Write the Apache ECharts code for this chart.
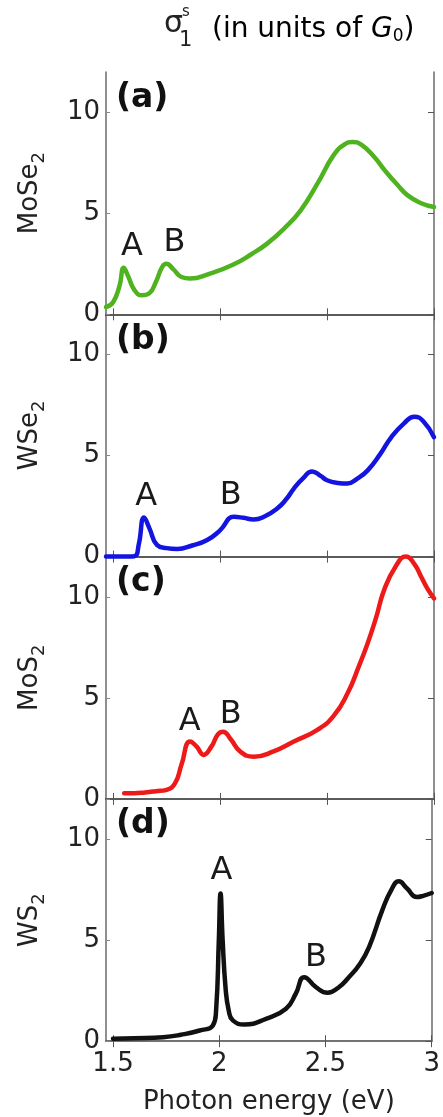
<!DOCTYPE html>
<html>
<head>
<meta charset="utf-8">
<script src="https://cdn.jsdelivr.net/npm/echarts@6/dist/echarts.min.js"></script>
<style>
  html, body { margin: 0; padding: 0; background: #fff; }
  #chart { width: 443px; height: 1117px; }
</style>
</head>
<body>
<div id="chart"></div>
<script>
// 四个面板的数据：[光子能量 eV, σ1 (G0)]
const moSe2 = [
  [1.467, 0.36], [1.50, 0.6], [1.53, 1.4], [1.55, 2.3], [1.57, 1.9], [1.60, 1.2],
  [1.635, 0.94], [1.67, 1.05], [1.70, 1.6], [1.73, 2.35], [1.75, 2.5], [1.78, 2.25],
  [1.82, 1.85], [1.86, 1.77], [1.95, 2.0], [2.06, 2.45], [2.15, 3.0], [2.22, 3.5],
  [2.30, 4.25], [2.377, 5.15], [2.455, 6.47], [2.53, 7.87], [2.58, 8.4], [2.62, 8.53],
  [2.66, 8.4], [2.72, 7.8], [2.77, 7.13], [2.83, 6.4], [2.877, 5.89], [2.94, 5.5], [3.0, 5.31]
];
const wSe2 = [
  [1.467, 0.0], [1.55, 0.0], [1.60, 0.02], [1.62, 0.6], [1.645, 1.94], [1.67, 1.4],
  [1.705, 0.58], [1.75, 0.42], [1.80, 0.38], [1.87, 0.55], [1.94, 0.82], [2.00, 1.3],
  [2.065, 1.97], [2.11, 1.92], [2.157, 1.84], [2.21, 2.0], [2.267, 2.38], [2.31, 2.85],
  [2.345, 3.37], [2.39, 3.9], [2.43, 4.22], [2.47, 4.0], [2.50, 3.78], [2.55, 3.65],
  [2.596, 3.62], [2.64, 3.85], [2.69, 4.27], [2.75, 5.1], [2.80, 5.91], [2.86, 6.6],
  [2.908, 6.93], [2.95, 6.7], [3.0, 5.91]
];
const moS2 = [
  [1.552, 0.28], [1.60, 0.28], [1.65, 0.32], [1.70, 0.38], [1.75, 0.45], [1.79, 0.78],
  [1.82, 1.7], [1.86, 2.84], [1.89, 2.6], [1.923, 2.18], [1.96, 2.6], [1.99, 3.2],
  [2.014, 3.33], [2.05, 2.95], [2.095, 2.34], [2.158, 2.09], [2.25, 2.35], [2.345, 2.84],
  [2.455, 3.42], [2.53, 4.1], [2.596, 5.23], [2.65, 6.6], [2.69, 7.71], [2.73, 9.0],
  [2.767, 10.35], [2.82, 11.5], [2.869, 12.0], [2.91, 11.6], [2.94, 11.0], [2.97, 10.4], [3.0, 9.93]
];
const wS2 = [
  [1.50, 0.12], [1.60, 0.15], [1.736, 0.2], [1.82, 0.32], [1.908, 0.53], [1.97, 0.78],
  [1.985, 1.5], [1.998, 5.0], [2.006, 7.31], [2.016, 5.0], [2.03, 2.6], [2.045, 1.5],
  [2.064, 1.03], [2.119, 0.83], [2.22, 1.11], [2.314, 1.61], [2.36, 2.35], [2.40, 3.17],
  [2.455, 2.68], [2.51, 2.4], [2.56, 2.65], [2.61, 3.17], [2.66, 3.8], [2.705, 4.66],
  [2.767, 6.48], [2.81, 7.5], [2.845, 7.92], [2.884, 7.56], [2.93, 7.14], [2.96, 7.2], [3.0, 7.34]
];

// 峰位标注 A / B
const peakLabelsMoSe2 = [['A', 1.588, 3.33], ['B', 1.787, 3.55]];
const peakLabelsWSe2 = [['A', 1.655, 2.96], ['B', 2.05, 3.01]];
const peakLabelsMoS2 = [['A', 1.858, 3.83], ['B', 2.05, 4.16]];
const peakLabelsWS2 = [['A', 2.01, 8.46], ['B', 2.455, 4.16]];

const materials = ['MoSe', 'WSe', 'MoS', 'WS'];
const panelTags = ['(a)', '(b)', '(c)', '(d)'];
const xTicks = [1.5, 2, 2.5, 3];
const yTicks = [0, 5, 10];

const seriesData = [moSe2, wSe2, moS2, wS2];
const peakData = [peakLabelsMoSe2, peakLabelsWSe2, peakLabelsMoS2, peakLabelsWS2];
const colors = ['#4fb320', '#1414e0', '#ee1a1a', '#111111'];

const font = 'DejaVu Sans';
const gridTop = 72;
const gridH = 242.3;
const frameColor = '#6a6a6a';

const chart = echarts.init(document.getElementById('chart'), null, { renderer: 'canvas' });

const grid = [];
const xAxis = [];
const yAxis = [];
const series = [];
const graphic = [];

for (let i = 0; i < 4; i++) {
  const top = gridTop + i * gridH;
  grid.push({ left: 106, width: 328, top: top, height: gridH });

  const last = i === 3;
  // 底部 x 轴
  xAxis.push({
    type: 'value', gridIndex: i, min: 1.467, max: 3, position: 'bottom',
    axisLine: { lineStyle: { color: last ? frameColor : '#333', width: last ? 1.5 : 2 } },
    axisTick: { show: true, inside: true, length: 6, customValues: xTicks, lineStyle: { color: '#555' } },
    axisLabel: {
      show: last, customValues: xTicks, margin: 10, color: '#222',
      fontSize: 26, fontFamily: font
    },
    splitLine: { show: false },
    name: last ? 'Photon energy (eV)' : '',
    nameLocation: 'middle', nameGap: 48,
    nameTextStyle: { fontSize: 26, fontFamily: font, color: '#222' }
  });
  // 顶部 x 轴，只画刻度
  xAxis.push({
    type: 'value', gridIndex: i, min: 1.467, max: 3, position: 'top',
    axisLine: { lineStyle: { color: frameColor, width: 1.5 } },
    axisTick: { show: true, inside: true, length: 6, customValues: xTicks, lineStyle: { color: '#555' } },
    axisLabel: { show: false },
    splitLine: { show: false }
  });
  // 左侧 y 轴
  yAxis.push({
    type: 'value', gridIndex: i, min: 0, max: 12, position: 'left',
    axisLine: { show: true, lineStyle: { color: frameColor, width: 1.5 } },
    axisTick: { show: true, inside: true, length: 4, customValues: yTicks, lineStyle: { color: '#888' } },
    axisLabel: { customValues: yTicks, margin: 6, color: '#222', fontSize: 26, fontFamily: font },
    splitLine: { show: false },
    name: '{m|' + materials[i] + '}{s|2}',
    nameLocation: 'middle', nameRotate: 90, nameGap: 58,
    nameTextStyle: {
      color: '#222',
      rich: {
        m: { fontSize: 26, fontFamily: font, color: '#222' },
        s: { fontSize: 18, fontFamily: font, color: '#222', padding: [18, 0, 0, 0] }
      }
    }
  });
  // 右侧 y 轴，只画刻度
  yAxis.push({
    type: 'value', gridIndex: i, min: 0, max: 12, position: 'right',
    axisLine: { show: true, lineStyle: { color: frameColor, width: 1.5 } },
    axisTick: { show: true, inside: true, length: 6, customValues: yTicks, lineStyle: { color: '#555' } },
    axisLabel: { show: false },
    splitLine: { show: false }
  });

  series.push({
    type: 'line', xAxisIndex: i * 2, yAxisIndex: i * 2,
    data: seriesData[i], showSymbol: false, smooth: 0.5,
    lineStyle: { color: colors[i], width: 4.5, cap: 'round', join: 'round' }, clip: false, z: 3
  });
  series.push({
    type: 'scatter', xAxisIndex: i * 2, yAxisIndex: i * 2,
    data: peakData[i].map((p) => ({ name: p[0], value: [p[1], p[2]] })),
    symbolSize: 1, itemStyle: { color: 'rgba(0,0,0,0)', opacity: 1 },
    label: {
      show: true, position: 'inside', formatter: '{b}',
      fontSize: 32, fontFamily: font, color: '#1a1a1a'
    },
    z: 4
  });

  graphic.push({
    type: 'text', style: {
      text: panelTags[i], x: 116, y: top + 26, verticalAlign: 'middle',
      font: 'bold 33px "DejaVu Sans"', fill: '#111'
    }
  });
}

// 顶部标题 σ1^s (in units of G0)
graphic.push(
  { type: 'text', style: { text: 'σ', x: 164, y: 24, verticalAlign: 'middle', font: '30px "DejaVu Sans"', fill: '#222' } },
  { type: 'text', style: { text: 's', x: 182, y: 12, verticalAlign: 'middle', font: '15px "DejaVu Sans"', fill: '#222' } },
  { type: 'text', style: { text: '1', x: 179, y: 41, verticalAlign: 'middle', font: '21px "DejaVu Sans"', fill: '#222' } },
  {
    type: 'text', style: {
      text: '{t|(in units of }{g|G}{z|0}{t|)}', x: 212, y: 30, verticalAlign: 'middle',
      rich: {
        t: { fontSize: 28, fontFamily: font, color: '#222' },
        g: { fontSize: 28, fontFamily: font, fontStyle: 'italic', color: '#222' },
        z: { fontSize: 17, fontFamily: font, color: '#222', padding: [14, 0, 0, 0] }
      }
    }
  }
);

chart.setOption({
  animation: false,
  backgroundColor: '#fff',
  grid: grid,
  xAxis: xAxis,
  yAxis: yAxis,
  series: series,
  graphic: graphic
});
</script>
</body>
</html>
